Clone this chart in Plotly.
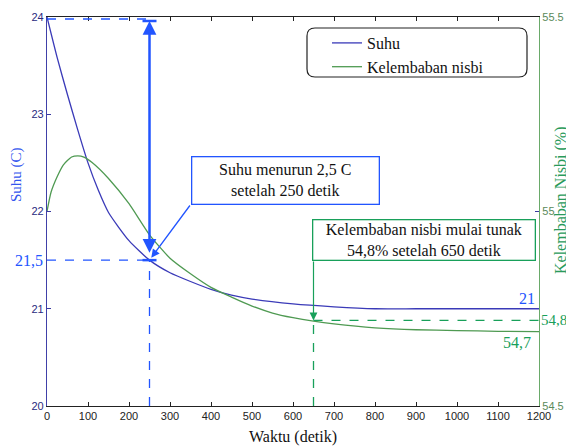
import plotly.graph_objects as go

# ---------------- data ----------------
time_suhu = [0, 25, 50, 75, 100, 125, 150, 200, 250, 300, 350, 400, 450, 500,
             600, 700, 800, 900, 1000, 1100, 1200]
suhu = [24.0, 23.58, 23.2, 22.84, 22.5, 22.22, 21.99, 21.7, 21.5, 21.37, 21.28,
        21.2, 21.14, 21.1, 21.05, 21.02, 21.0, 21.0, 21.0, 21.0, 21.0]

time_rh = [0, 10, 25, 40, 60, 75, 90, 110, 150, 200, 250, 300, 350, 400, 450,
           500, 550, 600, 650, 700, 800, 900, 1000, 1100, 1200]
kelembaban = [55.0, 55.05, 55.09, 55.12, 55.14, 55.143, 55.14, 55.126, 55.085,
              55.02, 54.94, 54.88, 54.84, 54.805, 54.78, 54.757, 54.739, 54.727,
              54.718, 54.711, 54.701, 54.696, 54.694, 54.692, 54.691]

x_ticks = list(range(0, 1201, 100))
y_ticks = [20, 21, 22, 23, 24]
y2_ticks = [54.5, 55, 55.5]

t_suhu_mark = 250
suhu_start = 24
suhu_mark = 21.5
suhu_final = 21
t_rh_mark = 650
rh_mark = 54.72
rh_final = 54.69

# ---------------- layout helpers ----------------
# the page body has an 8 px margin, so figure coords = screen coords - 8
OFF = 8
W, H = 574 - OFF, 446 - OFF
L, R, T, B = 47, 539, 17, 406          # plot area in screen pixels
XR = (0, 1200)
YR = (20, 24)
Y2R = (54.5, 55.5)


def px(x):
    return (x - L) / (R - L)


def py(y):
    return (B - y) / (B - T)


def px2t(x):
    return XR[0] + (x - L) / (R - L) * (XR[1] - XR[0])


def py2s(y):
    return YR[0] + (B - y) / (B - T) * (YR[1] - YR[0])


def py2h(y):
    return Y2R[0] + (B - y) / (B - T) * (Y2R[1] - Y2R[0])


SERIF = "Liberation Serif"
SANS = "Liberation Sans"
C_SUHU = "#3a3ab8"
C_RH = "#4f9a52"
C_ABLUE = "#2255ff"
C_AGREEN = "#18a05a"

fig = go.Figure()
fig.add_trace(go.Scatter(x=time_suhu, y=suhu, name="Suhu", mode="lines",
                         line=dict(color=C_SUHU, width=1.3, shape="spline",
                                   smoothing=0.6)))
fig.add_trace(go.Scatter(x=time_rh, y=kelembaban, name="Kelembaban nisbi",
                         mode="lines", yaxis="y2",
                         line=dict(color=C_RH, width=1.3, shape="spline",
                                   smoothing=0.6)))

shapes = []
# legend rounded frame
x0, x1, y0, y1 = px(307), px(527), py(28), py(77)
rx, ry = 8 / (R - L), 8 / (B - T)
shapes.append(dict(
    type="path", xref="paper", yref="paper", line=dict(color="#222", width=1.2),
    path=(f"M {x0+rx},{y0} L {x1-rx},{y0} Q {x1},{y0} {x1},{y0-ry} "
          f"L {x1},{y1+ry} Q {x1},{y1} {x1-rx},{y1} L {x0+rx},{y1} "
          f"Q {x0},{y1} {x0},{y1+ry} L {x0},{y0-ry} Q {x0},{y0} {x0+rx},{y0} Z")))
# blue dashed guides
shapes.append(dict(type="line", xref="x", yref="y", x0=0, x1=t_suhu_mark,
                   ysizemode="pixel", yanchor=suhu_start, y0=-2, y1=-2,
                   line=dict(color=C_ABLUE, width=1.3, dash="dash")))
shapes.append(dict(type="line", xref="x", yref="y", x0=0, x1=t_suhu_mark,
                   y0=suhu_mark, y1=suhu_mark,
                   line=dict(color=C_ABLUE, width=1.3, dash="dash")))
shapes.append(dict(type="line", xref="x", yref="y", x0=t_suhu_mark, x1=t_suhu_mark,
                   y0=YR[0], y1=suhu_mark,
                   line=dict(color=C_ABLUE, width=1.3, dash="dash")))
# caps of the double arrow
for yv, off in [(suhu_start, -4), (suhu_mark, 0)]:
    shapes.append(dict(type="line", xref="x", yref="y", xsizemode="pixel",
                       xanchor=t_suhu_mark, x0=-7, x1=7, ysizemode="pixel",
                       yanchor=yv, y0=off, y1=off,
                       line=dict(color=C_ABLUE, width=2.5)))
# green dashed guides
shapes.append(dict(type="line", xref="x", yref="y2", x0=t_rh_mark, x1=XR[1],
                   y0=rh_mark, y1=rh_mark,
                   line=dict(color=C_AGREEN, width=1.3, dash="dash")))
shapes.append(dict(type="line", xref="x", yref="y2", x0=t_rh_mark, x1=t_rh_mark,
                   y0=Y2R[0], y1=rh_mark,
                   line=dict(color=C_AGREEN, width=1.3, dash="dash")))

ann = []
# double vertical arrow
ann.append(dict(x=t_suhu_mark, y=suhu_start, ax=t_suhu_mark, ay=suhu_mark,
                xref="x", yref="y", axref="x", ayref="y", text="", showarrow=True,
                arrowside="end+start", arrowhead=2, startarrowhead=2,
                arrowsize=1.1, startarrowsize=1.1, arrowwidth=2.5,
                standoff=4, startstandoff=6, arrowcolor=C_ABLUE))
# blue callout box
ann.append(dict(x=px(191), y=py(156), xref="paper", yref="paper",
                xanchor="left", yanchor="top", showarrow=False,
                text="Suhu menurun 2,5 C<br>setelah 250 detik",
                font=dict(family=SERIF, size=16, color="#111"),
                width=186, height=46, borderpad=0, bgcolor="white",
                bordercolor=C_ABLUE, borderwidth=1.3))
ann.append(dict(x=t_suhu_mark, y=suhu_mark, ax=px2t(191), ay=py2s(204),
                xref="x", yref="y", axref="x", ayref="y", text="", showarrow=True,
                arrowhead=2, arrowsize=1.3, arrowwidth=1.3, standoff=3,
                arrowcolor=C_ABLUE))
# green callout box
ann.append(dict(x=px(312), y=py(219), xref="paper", yref="paper",
                xanchor="left", yanchor="top", showarrow=False,
                text="Kelembaban nisbi mulai tunak<br>54,8% setelah 650 detik",
                font=dict(family=SERIF, size=16, color="#111"),
                width=221, height=39, borderpad=0, bgcolor="white",
                bordercolor=C_AGREEN, borderwidth=1.3))
ann.append(dict(x=t_rh_mark, y=rh_mark, ax=t_rh_mark, ay=py2h(260),
                xref="x", yref="y2", axref="x", ayref="y2", text="", showarrow=True,
                arrowhead=2, arrowsize=1.3, arrowwidth=1.2, standoff=0,
                arrowcolor=C_AGREEN))
# value labels
ann.append(dict(x=0, y=suhu_mark, xref="paper", yref="y", xanchor="right",
                xshift=-2, text="21,5", showarrow=False,
                font=dict(family=SERIF, size=16, color=C_ABLUE)))
ann.append(dict(x=XR[1], y=suhu_final, xref="x", yref="y", xanchor="right",
                yanchor="bottom", xshift=-2, yshift=0, text="21", showarrow=False,
                font=dict(family=SERIF, size=16, color=C_ABLUE)))
ann.append(dict(x=1, y=rh_mark, xref="paper", yref="y2", xanchor="left",
                xshift=1, borderpad=0, text="54,8", showarrow=False,
                font=dict(family=SERIF, size=15, color=C_AGREEN)))
ann.append(dict(x=XR[1], y=rh_final, xref="x", yref="y2", xanchor="right",
                yanchor="top", xshift=-6, text="54,7", showarrow=False,
                font=dict(family=SERIF, size=16, color=C_AGREEN)))
# axis titles (placed as in the reference)
ann.append(dict(x=px(16), y=py(175), xref="paper", yref="paper",
                xanchor="center", yanchor="middle",
                text="Suhu (C)", textangle=-90, showarrow=False,
                font=dict(family=SERIF, size=15, color="#3355ee")))
ann.append(dict(x=px(561), y=py(200), xref="paper", yref="paper",
                xanchor="center", yanchor="middle",
                text="Kelembaban Nisbi (%)", textangle=-90, showarrow=False,
                font=dict(family=SERIF, size=16, color="#2a9a5a")))

fig.update_layout(
    width=W, height=H,
    margin=dict(l=L - OFF, r=W - (R - OFF), t=T - OFF, b=H - (B - OFF),
                autoexpand=False),
    paper_bgcolor="white", plot_bgcolor="white",
    showlegend=True,
    legend=dict(x=px(327), y=py(26), xanchor="left", yanchor="top",
                bgcolor="rgba(0,0,0,0)", borderwidth=0,
                font=dict(family=SERIF, size=16, color="#111"),
                itemwidth=30),
    xaxis=dict(range=list(XR), tickvals=x_ticks, ticks="inside", ticklen=4,
               tickcolor="#222", showline=True, linecolor="#222", linewidth=1.2,
               mirror="ticks", showgrid=False, zeroline=False, automargin=False,
               tickfont=dict(family=SANS, size=11, color="#222"),
               title=dict(text="Waktu (detik)", standoff=9,
                          font=dict(family=SERIF, size=16, color="#111"))),
    yaxis=dict(range=list(YR), tickvals=y_ticks, ticks="inside", ticklen=4,
               tickcolor="#3a3aa0", showline=True, linecolor="#4040a8",
               linewidth=1.2, showgrid=False, zeroline=False, automargin=False,
               tickfont=dict(family=SANS, size=11, color="#2a2a80")),
    yaxis2=dict(range=list(Y2R), tickvals=y2_ticks, overlaying="y", side="right",
                ticks="inside", ticklen=4, tickcolor="#3a3aa0", showline=True,
                linecolor="#6aaa6a", linewidth=1.2, showgrid=False,
                zeroline=False, automargin=False,
                tickfont=dict(family=SANS, size=11, color="#5a8a5a")),
    shapes=shapes,
    annotations=ann,
)

fig.write_html("out.html")
